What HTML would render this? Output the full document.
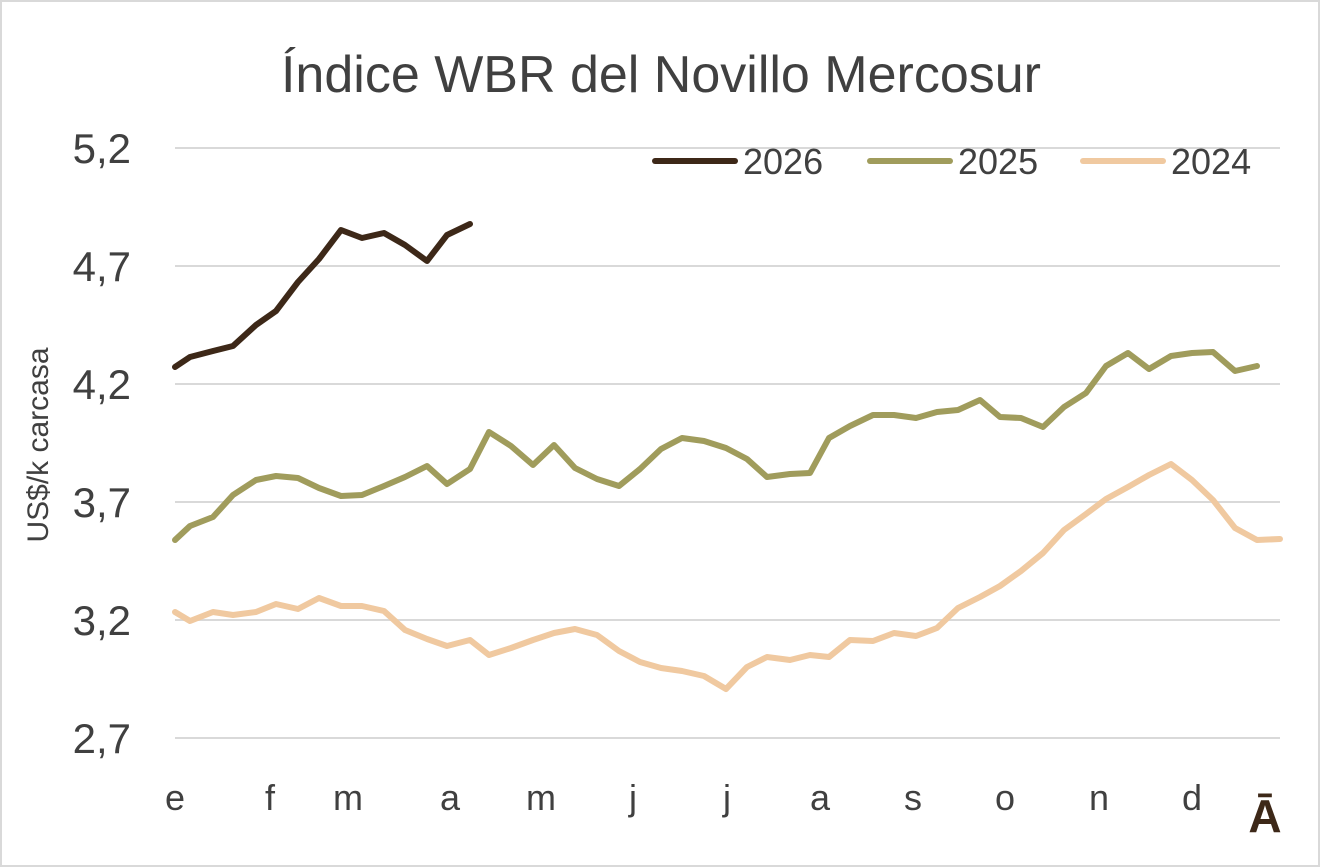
<!DOCTYPE html>
<html><head><meta charset="utf-8"><style>
html,body{margin:0;padding:0;background:#fff}
svg{display:block}
text{font-family:"Liberation Sans",sans-serif}
</style></head><body>
<svg width="1320" height="867" viewBox="0 0 1320 867">
<rect x="1" y="1" width="1318" height="865" fill="#fff" stroke="#d9d9d9" stroke-width="2"/>
<text x="661" y="92" text-anchor="middle" font-size="52" fill="#404040">Índice WBR del Novillo Mercosur</text>
<g stroke="#d9d9d9" stroke-width="2">
<line x1="175" x2="1280" y1="148" y2="148"/><line x1="175" x2="1280" y1="266" y2="266"/>
<line x1="175" x2="1280" y1="384" y2="384"/><line x1="175" x2="1280" y1="502" y2="502"/>
<line x1="175" x2="1280" y1="620" y2="620"/><line x1="175" x2="1280" y1="738" y2="738"/>
</g>
<g font-size="42" fill="#404040" text-anchor="end">
<text x="131" y="163">5,2</text><text x="131" y="281">4,7</text><text x="131" y="399">4,2</text>
<text x="131" y="517">3,7</text><text x="131" y="635">3,2</text><text x="131" y="753">2,7</text>
</g>
<text transform="translate(48,445) rotate(-90)" text-anchor="middle" font-size="30" fill="#404040">US$/k carcasa</text>
<g font-size="36" fill="#404040" text-anchor="middle">
<text x="175" y="810">e</text><text x="270" y="810">f</text><text x="348" y="810">m</text><text x="450" y="810">a</text>
<text x="541" y="810">m</text><text x="633" y="810">j</text><text x="727" y="810">j</text><text x="820" y="810">a</text>
<text x="913" y="810">s</text><text x="1005" y="810">o</text><text x="1099" y="810">n</text><text x="1192" y="810">d</text>
</g>
<text x="1265" y="832" text-anchor="middle" font-size="46" font-weight="bold" fill="#3d2818">Ā</text>
<g fill="none" stroke-width="6" stroke-linejoin="round" stroke-linecap="round">
<polyline stroke="#f0c9a0" points="175,612 190,621 213,612 233,615 256,612 276,604 298,609 319,598 341,606 362,606 384,611 405,630 427,639 447,646 470,640 489,655 511,648 533,640 554,633 575,629 597,635 619,651 640,662 661,668 682,671 704,676 726,689 747,667 767,657 790,660 810,655 829,657 850,640 873,641 894,633 916,636 937,628 958,608 980,597 1000,586 1021,571 1043,553 1064,530 1086,514 1106,499 1128,487 1149,475 1171,464 1192,480 1213,500 1235,528 1257,540 1280,539"/>
<polyline stroke="#a09c5c" points="175,540 190,526 213,517 233,495 256,480 276,476 298,478 319,488 341,496 362,495 384,486 405,477 427,466 447,484 470,469 489,432 511,446 533,465 554,445 575,468 597,479 619,486 640,469 661,449 682,438 704,441 726,448 747,459 767,477 790,474 810,473 829,438 850,426 873,415 894,415 916,418 937,412 958,410 980,400 1000,417 1021,418 1043,427 1064,407 1086,393 1106,366 1128,353 1149,369 1171,356 1192,353 1213,352 1235,371 1257,366"/>
<polyline stroke="#3d2818" points="175,367 190,357 213,351 233,346 256,325 276,311 298,282 319,259 341,230 362,238 384,233 405,245 427,261 447,235 470,224"/>
<line x1="655" y1="161" x2="735" y2="161" stroke="#3d2818"/>
<line x1="870" y1="161" x2="950" y2="161" stroke="#a09c5c"/>
<line x1="1083" y1="161" x2="1163" y2="161" stroke="#f0c9a0"/>
</g>
<g font-size="36" fill="#404040">
<text x="743" y="174">2026</text><text x="958" y="174">2025</text><text x="1171" y="174">2024</text>
</g>
</svg>
</body></html>
